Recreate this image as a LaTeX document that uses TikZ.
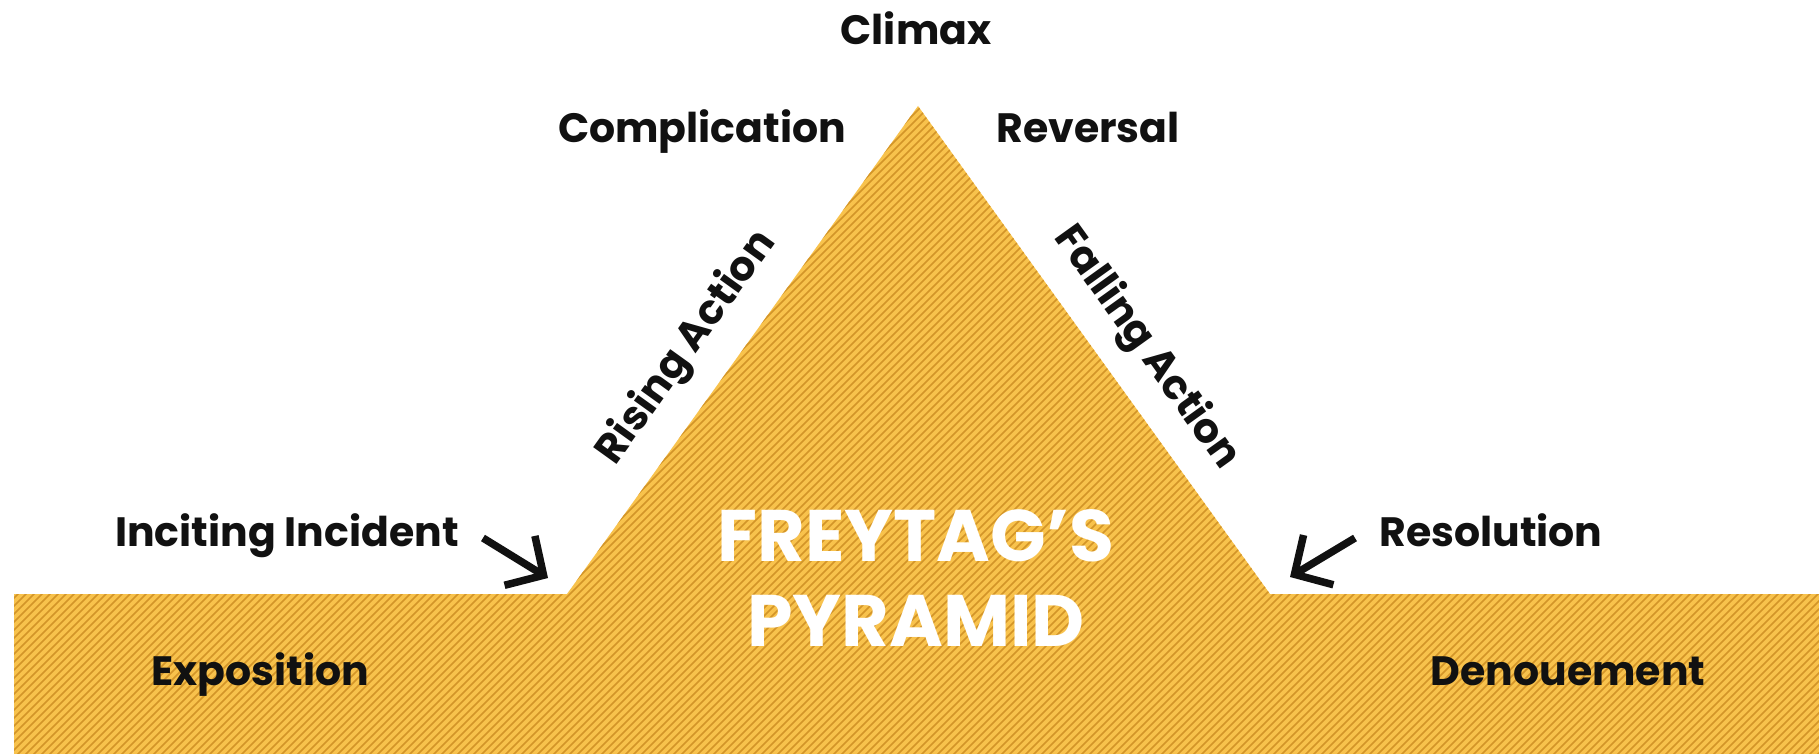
\documentclass[tikz,border=0pt]{standalone}
\usepackage{fontspec}
\setmainfont{Poppins}
\usetikzlibrary{arrows.meta,calc}
\definecolor{gold}{HTML}{F8C24C}
\definecolor{stripe}{HTML}{D39428}
\definecolor{ink}{HTML}{111111}
\tikzset{
  lbl/.style={font=\fontsize{41}{45}\selectfont\bfseries, text=ink, inner sep=0pt, anchor=base},
  title/.style={font=\fontsize{73}{85}\selectfont\bfseries, text=white, inner sep=0pt, anchor=base},
  pointer/.style={draw=ink, line width=7.5pt, -{Straight Barb[length=28pt,width=58pt,line width=7.5pt]}},
}
\begin{document}
\begin{tikzpicture}[x=1pt,y=-1pt]
\useasboundingbox (0,0) rectangle (1819,754);
\fill[white] (0,0) rectangle (1819,754);
% shape
\coordinate (bl) at (14,754);
\coordinate (lf) at (567,594);
\coordinate (apex) at (918,106);
\coordinate (rf) at (1270,594);
\path[fill=gold] (14,594) -- (lf) -- (apex) -- (rf) -- (1819,594) -- (1819,754) -- (bl) -- cycle;
\begin{scope}
  \clip (14,594) -- (lf) -- (apex) -- (rf) -- (1819,594) -- (1819,754) -- (bl) -- cycle;
  \foreach \i in {-700,-692,...,1830} {
    \draw[stripe, line width=1.7pt] (\i,760) -- ++(700,-700);
  }
\end{scope}
% labels
\node[lbl] (climax) at (916,45) {Climax};
\node[lbl] (compl) at (702,143) {Complication};
\node[lbl] (rev) at (1088,143) {Reversal};
\node[lbl] (inc) at (287,546) {Inciting Incident};
\node[lbl] (res) at (1491,546) {Resolution};
\node[lbl] (expo) at (260,685) {Exposition};
\node[lbl] (deno) at (1568,685) {Denouement};
\node[lbl, anchor=center, rotate=54.3] (rise) at (687,348) {Rising Action};
\node[lbl, anchor=center, rotate=-54.3] (fall) at (1146,348) {Falling Action};
\node[title] (t1) at (916,561) {FREYTAG’S};
\node[title] (t2) at (916,646) {PYRAMID};
% arrows
\coordinate (incA) at (483,538);
\coordinate (incB) at (548,578);
\coordinate (resA) at (1355,538);
\coordinate (resB) at (1290,577);
\draw[pointer] (incA) -- (incB);
\draw[pointer] (resA) -- (resB);
\end{tikzpicture}
\end{document}
